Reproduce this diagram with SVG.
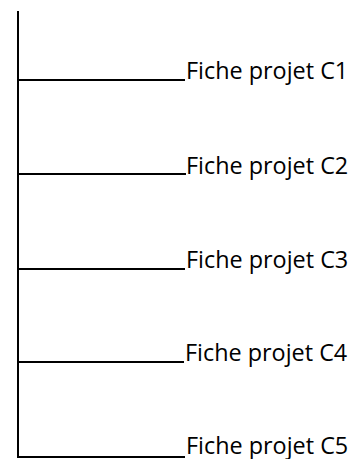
<svg xmlns="http://www.w3.org/2000/svg" width="355" height="459" viewBox="0 0 355 459">
<style>
.ln{stroke:#000;stroke-width:2;fill:none}
.lb{font-family:"Open Sans","Liberation Sans",sans-serif;font-size:23.4px;fill:#000}
</style>
<rect width="355" height="459" fill="#fff"/>
<g id="connectors">
<path class="ln" d="M18,11 V457 H185"/>
<path class="ln" d="M18,80 H185"/>
<path class="ln" d="M18,174 H186"/>
<path class="ln" d="M18,269 H185"/>
<path class="ln" d="M18,362 H184"/>
</g>
<g id="c1"><text class="lb" x="186" y="79">Fiche projet C1</text></g>
<g id="c2"><text class="lb" x="186" y="174">Fiche projet C2</text></g>
<g id="c3"><text class="lb" x="186" y="268">Fiche projet C3</text></g>
<g id="c4"><text class="lb" x="185" y="361">Fiche projet C4</text></g>
<g id="c5"><text class="lb" x="186" y="454">Fiche projet C5</text></g>
</svg>
